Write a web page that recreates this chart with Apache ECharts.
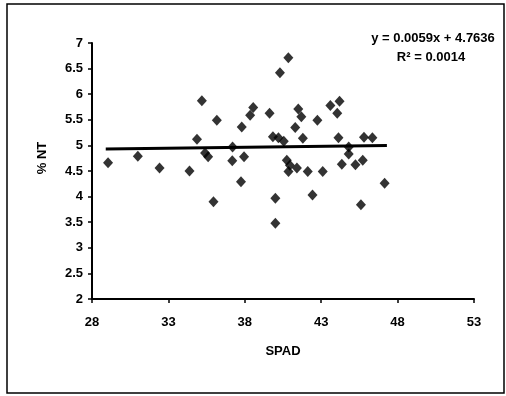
<!DOCTYPE html>
<html>
<head>
<meta charset="utf-8">
<script src="https://cdn.jsdelivr.net/npm/echarts@6/dist/echarts.min.js"></script>
<style>
  html, body { margin: 0; padding: 0; background: #fff; }
  #main { width: 506px; height: 396px; }
</style>
</head>
<body>
<div id="main"></div>
<script>
// SPAD vs %NT
var spad = [29.05, 31.0, 32.42, 34.38, 35.19, 34.87, 35.4, 35.6, 35.95, 36.17,
  37.2, 37.18, 37.95, 37.75, 37.8, 38.35, 38.55, 39.62, 39.84, 40.2,
  40.55, 40.3, 40.85, 40.0, 40.0, 41.3, 41.5, 41.7, 41.8, 42.75,
  43.6, 44.2, 44.05, 44.13, 44.8, 45.8, 46.35, 40.75, 40.95, 40.86,
  41.41, 42.12, 43.1, 42.43, 44.35, 44.8, 45.24, 45.72, 45.6, 47.15];
var nt = [4.66, 4.79, 4.56, 4.50, 5.87, 5.12, 4.85, 4.78, 3.90, 5.49,
  4.97, 4.70, 4.78, 4.29, 5.36, 5.59, 5.74, 5.63, 5.17, 5.15,
  5.08, 6.42, 6.71, 3.97, 3.48, 5.35, 5.71, 5.56, 5.14, 5.49,
  5.78, 5.86, 5.63, 5.15, 4.97, 5.16, 5.15, 4.71, 4.61, 4.49,
  4.56, 4.49, 4.49, 4.03, 4.63, 4.83, 4.62, 4.71, 3.84, 4.26];
// trend line ends as drawn
var trendX = [28.9, 47.3];
var trendY = [4.93, 5.0];
var eqText = 'y = 0.0059x + 4.7636';
var r2Text = 'R\u00b2 = 0.0014';

var font = '"Liberation Sans", Arial, sans-serif';
var pts = [];
for (var i = 0; i < spad.length; i++) pts.push([spad[i], nt[i]]);
var trend = [];
for (var j = 0; j < trendX.length; j++) trend.push([trendX[j], trendY[j]]);

var axisCommon = {
  axisLine: { show: true, onZero: false, lineStyle: { color: '#000', width: 2 } },
  axisTick: { show: true, inside: false, length: 4, lineStyle: { color: '#000', width: 1.5 } },
  splitLine: { show: false }
};

var myChart = echarts.init(document.getElementById('main'));
var option = {
  backgroundColor: '#fff',
  animation: false,
  grid: { left: 92, right: 32, top: 43, bottom: 97 },
  xAxis: Object.assign({
    type: 'value', min: 28, max: 53, interval: 5,
    name: 'SPAD', nameLocation: 'middle', nameGap: 46,
    nameTextStyle: { color: '#000', fontFamily: font, fontSize: 13, fontWeight: 'bold' },
    axisLabel: { color: '#000', fontFamily: font, fontSize: 13, fontWeight: 'bold', margin: 17 }
  }, axisCommon),
  yAxis: Object.assign({
    type: 'value', min: 2, max: 7, interval: 0.5,
    axisLabel: { color: '#000', fontFamily: font, fontSize: 13, fontWeight: 'bold', margin: 9 }
  }, axisCommon),
  graphic: [
    { type: 'rect', shape: { x: 7, y: 4, width: 497, height: 389 },
      style: { fill: 'none', stroke: '#000', lineWidth: 1.5 }, silent: true },
    { type: 'text', x: 42, y: 158, rotation: Math.PI / 2,
      style: { text: '% NT', font: 'bold 13px ' + font, fill: '#000', textAlign: 'center', textVerticalAlign: 'middle' } },
    { type: 'text', x: 433, y: 38,
      style: { text: eqText, font: 'bold 13px ' + font, fill: '#000', textAlign: 'center', textVerticalAlign: 'middle' } },
    { type: 'text', x: 431, y: 57,
      style: { text: r2Text, font: 'bold 13px ' + font, fill: '#000', textAlign: 'center', textVerticalAlign: 'middle' } }
  ],
  series: [
    {
      type: 'scatter', data: pts, symbol: 'diamond', symbolSize: [10, 11],
      itemStyle: { color: '#000' }, z: 3
    },
    {
      type: 'line', data: trend, symbol: 'none',
      lineStyle: { color: '#000', width: 3 }, z: 4
    }
  ]
};
myChart.setOption(option);
</script>
</body>
</html>
